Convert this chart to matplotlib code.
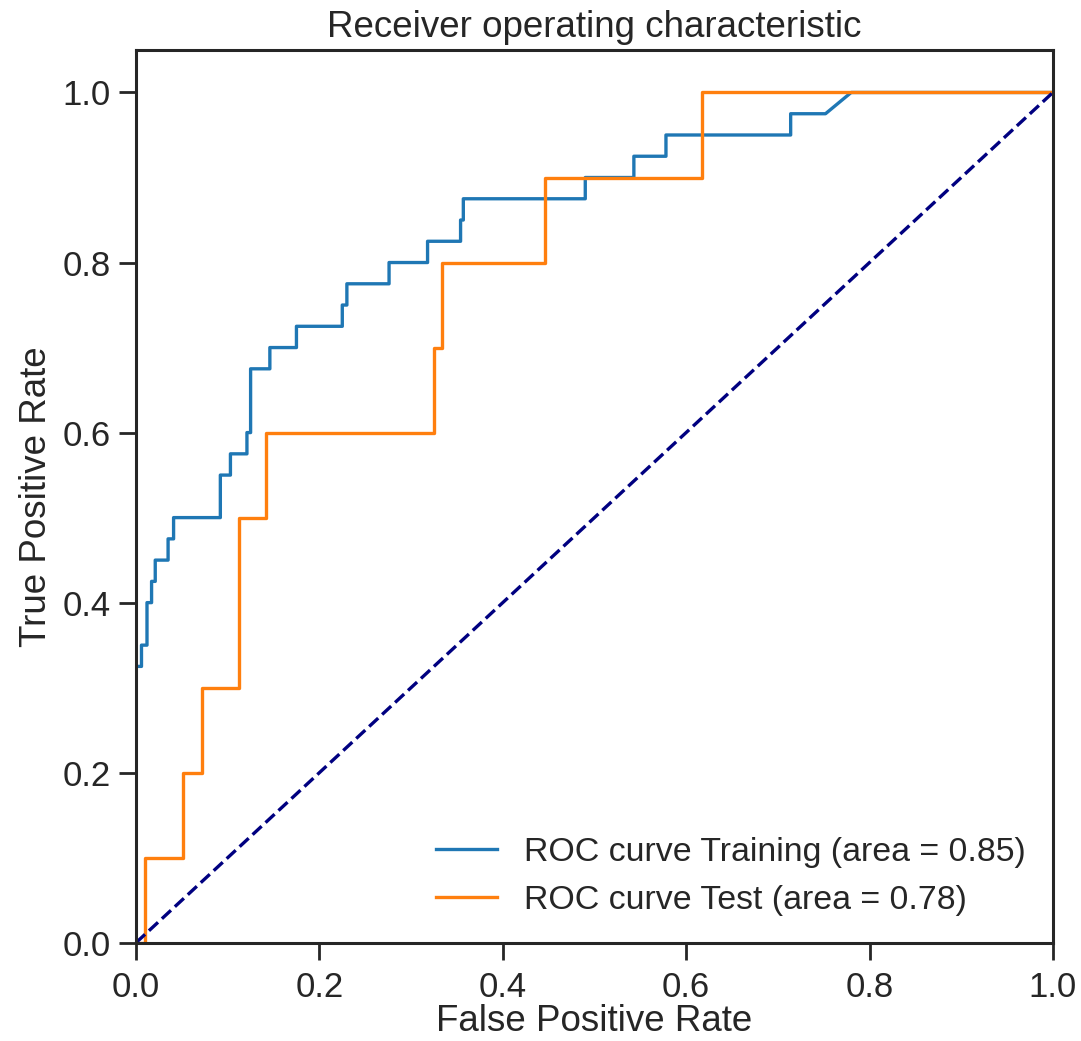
import matplotlib
matplotlib.use("Agg")
import matplotlib.pyplot as plt

# ROC points for the training set
train_fpr = [0, 0, 0.006, 0.006, 0.012, 0.012, 0.017, 0.017, 0.021, 0.021,
             0.035, 0.035, 0.041, 0.041, 0.092, 0.092, 0.103, 0.103, 0.121, 0.121,
             0.125, 0.125, 0.146, 0.146, 0.175, 0.175, 0.225, 0.225, 0.23, 0.23,
             0.276, 0.276, 0.318, 0.318, 0.354, 0.354, 0.357, 0.357, 0.49, 0.49,
             0.543, 0.543, 0.578, 0.578, 0.714, 0.714, 0.752, 0.78, 1.0]
train_tpr = [0, 0.325, 0.325, 0.35, 0.35, 0.4, 0.4, 0.425, 0.425, 0.45,
             0.45, 0.475, 0.475, 0.5, 0.5, 0.55, 0.55, 0.575, 0.575, 0.6,
             0.6, 0.675, 0.675, 0.7, 0.7, 0.725, 0.725, 0.75, 0.75, 0.775,
             0.775, 0.8, 0.8, 0.825, 0.825, 0.85, 0.85, 0.875, 0.875, 0.9,
             0.9, 0.925, 0.925, 0.95, 0.95, 0.975, 0.975, 1.0, 1.0]

# ROC points for the test set
test_fpr = [0, 0.01, 0.01, 0.051, 0.051, 0.072, 0.072, 0.112, 0.112, 0.142,
            0.142, 0.325, 0.325, 0.334, 0.334, 0.446, 0.446, 0.617, 0.617, 1.0]
test_tpr = [0, 0, 0.1, 0.1, 0.2, 0.2, 0.3, 0.3, 0.5, 0.5,
            0.6, 0.6, 0.7, 0.7, 0.8, 0.8, 0.9, 0.9, 1.0, 1.0]

train_auc = 0.85
test_auc = 0.78

ink = "#262626"
plt.rcParams.update({
    "font.family": ["Liberation Sans", "DejaVu Sans"],
    "font.size": 25,
    "text.color": ink,
    "axes.labelcolor": ink,
    "axes.edgecolor": ink,
    "axes.linewidth": 2.2,
    "xtick.color": ink,
    "ytick.color": ink,
    "xtick.major.size": 12,
    "ytick.major.size": 12,
    "xtick.major.width": 2,
    "ytick.major.width": 2,
    "xtick.major.pad": 8,
    "ytick.major.pad": 6,
})

fig = plt.figure(figsize=(10.81, 10.41), dpi=100)
ax = fig.add_axes([0.1258, 0.0944, 0.8482, 0.8576])

ax.plot(train_fpr, train_tpr, color="#1f77b4", lw=2.4,
        label="ROC curve Training (area = %0.2f)" % train_auc)
ax.plot(test_fpr, test_tpr, color="#ff7f0e", lw=2.4,
        label="ROC curve Test (area = %0.2f)" % test_auc)
ax.plot([0, 1], [0, 1], color="navy", lw=2.4, linestyle="--")

ax.set_xlim(0.0, 1.0)
ax.set_ylim(0.0, 1.05)
ax.set_xticks([0.0, 0.2, 0.4, 0.6, 0.8, 1.0])
ax.set_yticks([0.0, 0.2, 0.4, 0.6, 0.8, 1.0])
ax.set_xlabel("False Positive Rate", fontsize=26.5, labelpad=0)
ax.set_ylabel("True Positive Rate", fontsize=26.5, labelpad=6)
ax.set_title("Receiver operating characteristic", fontsize=26.5, pad=9)
ax.legend(loc="lower right", frameon=False, fontsize=24.4,
          handlelength=1.8, handletextpad=0.8, borderaxespad=0.4)

fig.savefig("out.png", dpi=100)
